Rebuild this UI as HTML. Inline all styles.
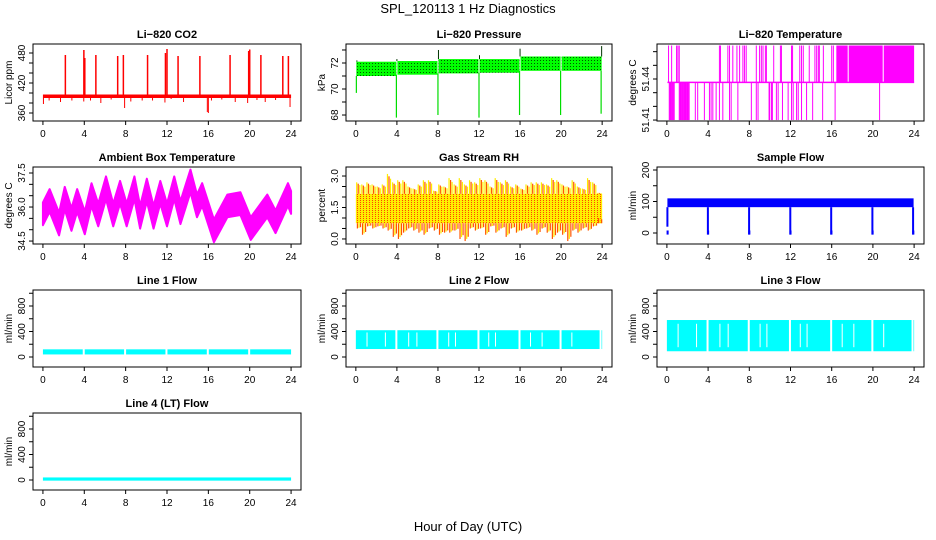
<!DOCTYPE html>
<html><head><meta charset="utf-8"><style>
html,body{margin:0;padding:0;background:#fff;}
svg{display:block;font-family:"Liberation Sans",Arial,sans-serif;}
</style></head><body>
<svg id="c" width="936" height="540" viewBox="0 0 936 540">
<defs>
<pattern id="rhpat" width="3" height="2" patternUnits="userSpaceOnUse"><rect width="3" height="2" fill="#ffee00"/><rect width="1" height="1" fill="#ff4400"/></pattern>
<pattern id="prpat" width="3" height="3" patternUnits="userSpaceOnUse"><rect width="3" height="3" fill="#00ff00"/><rect width="1" height="1" fill="#005500"/></pattern>
</defs>
<text x="468" y="13" font-size="13" text-anchor="middle">SPL_120113  1 Hz Diagnostics</text>
<text x="468" y="531" font-size="13" text-anchor="middle">Hour of Day (UTC)</text>
</svg>
<script>
// ---- data ----
const xTicks=[0,4,8,12,16,20,24];
const co2Base=[390,397];
const co2UpHours=[2.17,3.96,4.05,5.12,7.23,7.78,10.12,11.85,12.0,13.07,15.18,18.1,19.9,20.0,21.08,23.2,23.74];
const co2UpVals=[476,486,470,476,474,476,476,480,488,474,474,476,484,487,476,474,474];
const co2DownHours=[0.05,0.6,1.7,2.8,3.95,4.6,5.6,6.6,7.9,8.5,9.6,10.6,11.8,12.4,13.6,15.9,16.0,16.3,17.3,18.6,19.8,20.7,21.5,22.5,23.9];
const co2DownVals=[378,385,382,385,383,385,380,387,370,383,385,385,381,388,382,362,360,385,387,382,380,386,382,386,372];
const presSegStart=[0,4,8,12,16,20];
const presLo=[71.0,71.1,71.2,71.25,71.4,71.4];
const presHi=[72.1,72.15,72.3,72.3,72.5,72.5];
const presDipHours=[0.05,3.95,8.0,12.0,15.95,19.95,23.9];
const presDipVals=[69.7,67.8,68.0,67.8,68.0,68.0,68.1];
const presUpVals=[72.2,72.3,73.0,72.6,73.1,72.5,73.3];
const tempLevels=[51.410,51.4375,51.4645];
const tempHighHours=[0.16,0.46,0.94,1.07,1.2,5.1,5.2,5.92,6.08,6.4,6.8,7.06,7.38,7.54,7.7,8.68,9.0,9.17,9.33,9.56,9.66,10.37,11.02,11.12,12.1,12.2,12.9,13.07,13.24,13.82,14.37,14.54,14.7,14.8,15.19,16.0,16.16];
const tempHighRanges=[[16.45,17.55],[17.65,20.95],[21.05,24]];
const tempLowHours=[2.76,2.99,3.64,4.13,4.29,4.46,4.78,5.1,5.43,6.08,6.24,6.89,8.2,8.68,8.85,9.92,9.98,10.15,10.24,10.63,10.8,11.22,11.77,12.1,12.26,12.59,12.75,13.07,13.56,14.15,15.12,16.33,20.65];
const tempLowRanges=[[0.23,0.72],[1.2,2.24]];
const ambHours=[0,0.65,1.56,2.11,2.76,3.31,4.05,4.7,5.35,6.1,6.8,7.46,8.1,8.85,9.4,10.05,10.7,11.35,12.0,12.7,13.3,14.27,14.9,15.4,16.54,17.84,19.1,20.1,21.7,22.5,23.7,24];
const ambMid=[35.7,36.29,35.25,36.39,35.45,36.29,35.3,36.55,35.65,36.85,35.65,36.65,35.65,36.85,35.55,36.75,35.55,36.65,35.65,36.85,35.75,37.15,36.05,36.55,34.95,36.05,36.15,35.05,36.05,35.35,36.55,36.2];
const ambHalf=0.5;
const rhCore=[0.75,2.15];
const rhHi=[2.7,2.6,2.7,2.6,2.5,2.6,3.1,2.7,2.8,2.8,2.5,2.4,2.6,2.8,2.8,2.3,2.6,2.5,2.9,2.6,2.9,2.6,2.8,2.7,2.9,2.8,2.5,2.9,2.7,2.8,2.5,2.6,2.4,2.6,2.7,2.7,2.7,2.6,2.9,2.8,2.6,2.5,2.8,2.5,2.4,2.9,2.7,2.2];
const rhLo=[0.5,0.2,0.6,0.5,0.6,0.5,0.4,0.1,0.0,0.3,0.5,0.4,0.3,0.2,0.5,0.4,0.2,0.3,0.3,0.4,0.0,-0.1,0.5,0.4,0.5,0.2,0.6,0.3,0.5,0.1,0.5,0.3,0.4,0.5,0.4,0.2,0.5,0.3,0.0,0.3,0.2,-0.1,0.4,0.3,0.5,0.4,0.6,1.0];
const sfBand=[82,110];
const sfDipHours=[0.05,3.98,7.98,11.98,15.95,19.95,23.9];
const sfDipVals=[20,-5,-5,-5,-5,-5,-5];
const flowGapHours=[3.85,7.85,11.85,15.85,19.85];
const line1Band=[40,120];
const line2Band=[125,420];
const line3Band=[90,580];
const line3Gaps=[1.04,2.83,5.1,5.9,9.0,9.66,12.9,13.56,16.97,18.1,21.0];
const line4Band=[-10,40];

// ---- layout ----
const svg=document.getElementById('c');
const NS='http://www.w3.org/2000/svg';
const COLS=[[33,301],[346,612],[657,924]];
const ROWS=[44,167,290,413];
const PH=77;
function mk(tag,attrs,parent){const e=document.createElementNS(NS,tag);for(const k in attrs)e.setAttribute(k,attrs[k]);(parent||svg).appendChild(e);return e;}
function panel(c,r,ylim,title,ylab,yTicks,yLabels,name){
  const L=COLS[c][0],R=COLS[c][1],T=ROWS[r],B=T+PH;
  const g=mk('g',{});
  
  
  const x=h=>L+(h+0.96)/25.92*(R-L);
  const y=v=>B-(v-ylim[0])/(ylim[1]-ylim[0])*PH;
  const plot=mk('g',{},g);
  
  
  const box=mk('rect',{x:L,y:T,width:R-L,height:PH,fill:'none',stroke:'#000','stroke-width':1},g);
  
  
  const t=mk('text',{x:(L+R)/2,y:T-6,'font-size':11,'font-weight':'bold','text-anchor':'middle'},g);
  t.textContent=title;
  
  
  const xa=mk('g',{},g);
  
  
  mk('line',{x1:x(0),x2:x(24),y1:B,y2:B,stroke:'#000'},xa);
  xTicks.forEach(h=>{
    mk('line',{x1:x(h),x2:x(h),y1:B,y2:B+4,stroke:'#000'},xa);
    const tl=mk('text',{x:x(h),y:B+16,'font-size':10,'text-anchor':'middle'},xa);
    tl.textContent=h;
    
    
  });
  const ya=mk('g',{},g);
  
  
  yTicks.forEach(v=>{
    if(y(v)<T-1||y(v)>B+1)return;
    mk('line',{x1:L-4,x2:L,y1:y(v),y2:y(v),stroke:'#000'},ya);
  });
  yLabels.forEach(s=>{
    const v=parseFloat(s);
    const tl=mk('text',{x:L-8,y:y(v),'font-size':10,'text-anchor':'middle',transform:`rotate(-90 ${L-8} ${y(v)})`},ya);
    tl.textContent=s;
    
    
  });
  const yt=mk('text',{x:L-21,y:(T+B)/2,'font-size':10,'text-anchor':'middle',transform:`rotate(-90 ${L-21} ${(T+B)/2})`},ya);
  yt.textContent=ylab;
  
  
  return {x,y,g:plot};
}
function vline(p,h,v1,v2,col,w,nm){const e=mk('line',{x1:p.x(h),x2:p.x(h),y1:p.y(v1),y2:p.y(v2),stroke:col,'stroke-width':w||1},p.g);
  
  return e;}
function band(p,h1,h2,v1,v2,fill,nm){const e=mk('rect',{x:p.x(h1),y:p.y(v2),width:Math.max(0.5,p.x(h2)-p.x(h1)),height:Math.max(1,p.y(v1)-p.y(v2)),fill:fill},p.g);
  
  return e;}

// CO2
{const p=panel(0,0,[344,498],'Li\u2212820 CO2','Licor ppm',[360,380,400,420,440,460,480],['360','420','480'],'co2');
 band(p,0,24,co2Base[0],co2Base[1],'#ff0000','co2-baseline');
 co2UpHours.forEach((h,i)=>vline(p,h,co2Base[1],co2UpVals[i],'#ff0000',1.5,'co2-spike-up'));
 co2DownHours.forEach((h,i)=>vline(p,h,co2Base[0],co2DownVals[i],'#ff0000',1,'co2-spike-down'));}
// Pressure
{const p=panel(1,0,[67.54,73.46],'Li\u2212820 Pressure','kPa',[68,69,70,71,72,73],['68','70','72'],'pressure');
 presSegStart.forEach((s,i)=>band(p,s+0.05,s+4-0.05,presLo[i],presHi[i],'url(#prpat)','pressure-band'));
 presDipHours.forEach((h,i)=>{vline(p,h,presLo[Math.min(i,5)],presDipVals[i],'#00dd00',1.2,'pressure-dip');vline(p,h+0.05,presHi[Math.min(i,5)],presUpVals[i],'#003300',1,'pressure-spike');});}
// Temperature
{const p=panel(2,0,[51.4093,51.4656],'Li\u2212820 Temperature','degrees C',[51.41,51.42,51.43,51.44,51.45,51.46],['51.41','51.44'],'licor-temp');
 const base=mk('line',{x1:p.x(0.05),x2:p.x(24),y1:p.y(tempLevels[1]),y2:p.y(tempLevels[1]),stroke:'#ff00ff','stroke-width':1.5},p.g);
 
 
 tempHighHours.forEach(h=>vline(p,h,tempLevels[1],tempLevels[2],'#ff00ff',1,'temp-high'));
 tempLowHours.forEach(h=>vline(p,h,tempLevels[1],tempLevels[0],'#ff00ff',1,'temp-low'));
 tempHighRanges.forEach(r=>band(p,r[0],r[1],tempLevels[1],tempLevels[2],'#ff00ff','temp-high-block'));
 tempLowRanges.forEach(r=>{for(let h=r[0];h<=r[1];h+=0.08)vline(p,h,tempLevels[1],tempLevels[0],'#ff00ff',1,'temp-low');});}
// Ambient
{const p=panel(0,1,[34.37,37.765],'Ambient Box Temperature','degrees C',[34.5,35,35.5,36,36.5,37,37.5],['34.5','36.0','37.5'],'ambient-temp');
 let up=ambHours.map((h,i)=>p.x(h)+','+p.y(ambMid[i]+ambHalf));
 let dn=ambHours.map((h,i)=>p.x(h)+','+p.y(ambMid[i]-ambHalf)).reverse();
 const pg=mk('polygon',{points:up.concat(dn).join(' '),fill:'#ff00ff',stroke:'#ff00ff','stroke-width':2,'stroke-linejoin':'round'},p.g);
 
 }
// RH
{const p=panel(1,1,[-0.24,3.43],'Gas Stream RH','percent',[0,0.5,1,1.5,2,2.5,3],['0.0','1.5','3.0'],'rh');
 band(p,0,24,rhCore[0],rhCore[1],'url(#rhpat)','rh-core');
 rhHi.forEach((v,i)=>{const h=i*0.5;
   for(let k=0;k<3;k++){const hh=h+0.08+k*0.15;const f=1-k*0.12;
     vline(p,hh,rhCore[1],rhCore[1]+(v-rhCore[1])*f,k%2?'#ff5500':'#ffee00',1.2,'rh-spike-up');
     vline(p,hh+0.07,rhCore[0],rhCore[0]-(rhCore[0]-rhLo[i])*f,k%2?'#ffee00':'#ff5500',1.2,'rh-spike-down');}});}
// Sample flow
{const p=panel(2,1,[-34.9,209.5],'Sample Flow','ml/min',[0,50,100,150,200],['0','100','200'],'sample-flow');
 band(p,0.05,23.95,sfBand[0],sfBand[1],'#0000ff','sample-flow-band');
 sfDipHours.forEach((h,i)=>{vline(p,h,sfBand[0],sfDipVals[i],'#0000ff',2,'sample-flow-dip');band(p,h-0.08,h+0.12,-5,8,'#0000ff','sample-flow-dip-base');});}
// Line flows
function flowPanel(c,r,title,nm,bnd,gaps,inner){
 const p=panel(c,r,[-157,1051],title,'ml/min',[0,200,400,600,800,1000],['0','400','800'],nm);
 band(p,0,24,bnd[0],bnd[1],'#00ffff',nm+'-band');
 gaps.forEach(h=>{const e=mk('rect',{x:p.x(h),y:p.y(bnd[1])-1,width:2,height:p.y(bnd[0])-p.y(bnd[1])+2,fill:'#fff'},p.g);
   
   });
 (inner||[]).forEach(h=>{const e=mk('rect',{x:p.x(h),y:p.y(bnd[1]-(bnd[1]-bnd[0])*0.12),width:1,height:(p.y(bnd[0])-p.y(bnd[1]))*0.75,fill:'#fff'},p.g);
   
   });
 return p;}
flowPanel(0,2,'Line 1 Flow','line1-flow',line1Band,flowGapHours);
flowPanel(1,2,'Line 2 Flow','line2-flow',line2Band,flowGapHours.concat([23.75]),line3Gaps);
flowPanel(2,2,'Line 3 Flow','line3-flow',line3Band,flowGapHours.concat([23.75]),line3Gaps);
flowPanel(0,3,'Line 4 (LT) Flow','line4-flow',line4Band,[]);
</script>
</body></html>
